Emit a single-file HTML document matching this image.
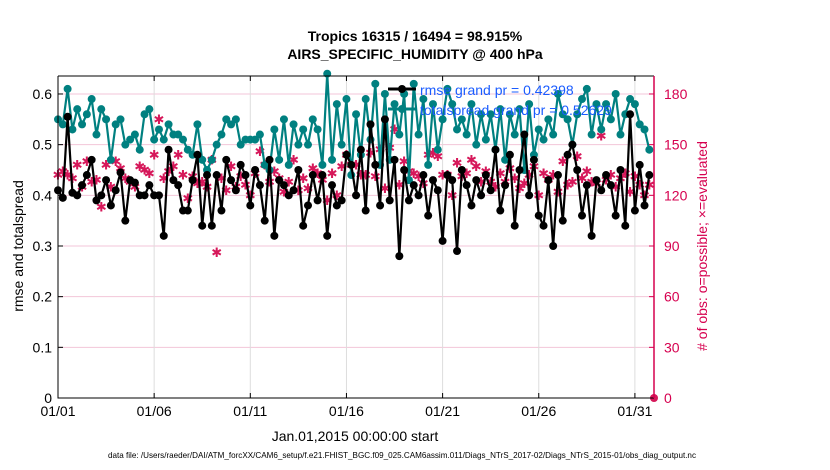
<!DOCTYPE html>
<html><head><meta charset="utf-8"><style>
body{margin:0;background:#fff;}
svg{display:block;font-family:"Liberation Sans",Arial,sans-serif;}
</style></head><body>
<svg id="chart" width="830" height="470">
<text x="415" y="41" text-anchor="middle" font-size="14" font-weight="bold">Tropics 16315 / 16494 = 98.915%</text>
<text x="415" y="59" text-anchor="middle" font-size="14" font-weight="bold">AIRS_SPECIFIC_HUMIDITY @ 400 hPa</text>
<g id="grid"></g>
<g id="series"></g>
<g id="axes"></g>
<text transform="translate(23,246) rotate(-90)" text-anchor="middle" font-size="14">rmse and totalspread</text>
<text transform="translate(707,246) rotate(-90)" text-anchor="middle" font-size="14" fill="#d6004f"># of obs: o=possible; ×=evaluated</text>
<text x="355" y="441" text-anchor="middle" font-size="14">Jan.01,2015 00:00:00 start</text>
<text x="402" y="458" text-anchor="middle" font-size="8.1">data file: /Users/raeder/DAI/ATM_forcXX/CAM6_setup/f.e21.FHIST_BGC.f09_025.CAM6assim.011/Diags_NTrS_2017-02/Diags_NTrS_2015-01/obs_diag_output.nc</text>
<g>
<line x1="388" y1="89" x2="416" y2="89" stroke="#000" stroke-width="3"/>
<circle cx="402" cy="89" r="4" fill="#000"/>
<text x="420" y="95" font-size="14" fill="#1a5cff">rmse grand pr = 0.42398</text>
<line x1="388" y1="109" x2="416" y2="109" stroke="#008080" stroke-width="3"/>
<circle cx="402" cy="109" r="4" fill="#008080"/>
<text x="420" y="115" font-size="14" fill="#1a5cff">totalspread grand pr = 0.52629</text>
</g>
</svg>
<script>
const rmse=[0.41,0.395,0.555,0.405,0.40,0.42,0.44,0.47,0.39,0.40,0.43,0.38,0.41,0.445,0.35,0.43,0.425,0.40,0.40,0.42,0.40,0.40,0.32,0.49,0.43,0.42,0.37,0.37,0.43,0.48,0.34,0.44,0.34,0.44,0.37,0.47,0.43,0.41,0.46,0.44,0.38,0.45,0.42,0.35,0.47,0.32,0.43,0.42,0.40,0.41,0.45,0.34,0.38,0.44,0.39,0.44,0.32,0.42,0.38,0.39,0.48,0.46,0.40,0.49,0.37,0.54,0.46,0.38,0.55,0.39,0.47,0.28,0.45,0.39,0.42,0.40,0.44,0.36,0.43,0.41,0.31,0.44,0.43,0.29,0.45,0.42,0.38,0.43,0.40,0.44,0.41,0.49,0.37,0.42,0.48,0.34,0.45,0.52,0.40,0.47,0.36,0.34,0.43,0.30,0.44,0.35,0.48,0.50,0.45,0.36,0.42,0.32,0.43,0.41,0.44,0.42,0.36,0.45,0.34,0.56,0.37,0.46,0.38,0.44];
const spread=[0.55,0.54,0.61,0.53,0.57,0.54,0.56,0.59,0.52,0.57,0.55,0.47,0.54,0.55,0.50,0.51,0.52,0.49,0.56,0.57,0.51,0.53,0.51,0.54,0.52,0.52,0.51,0.49,0.48,0.54,0.47,0.45,0.47,0.50,0.52,0.55,0.54,0.55,0.50,0.51,0.51,0.51,0.52,0.46,0.45,0.53,0.47,0.55,0.46,0.54,0.50,0.53,0.50,0.55,0.53,0.46,0.64,0.47,0.58,0.50,0.59,0.44,0.56,0.48,0.59,0.51,0.62,0.46,0.60,0.47,0.58,0.52,0.60,0.43,0.62,0.52,0.59,0.46,0.58,0.49,0.55,0.61,0.58,0.53,0.55,0.52,0.58,0.50,0.56,0.51,0.56,0.49,0.57,0.47,0.56,0.52,0.57,0.45,0.58,0.48,0.53,0.51,0.55,0.52,0.60,0.56,0.55,0.50,0.56,0.59,0.61,0.52,0.58,0.53,0.58,0.55,0.60,0.52,0.56,0.59,0.58,0.54,0.53,0.49];
const nobs=[132,134,132,130,138,125,140,128,129,113,138,125,140,136,130,128,125,137,135,133,144,165,130,134,137,144,132,118,131,127,128,125,141,86,130,123,137,125,131,126,120,133,146,138,128,134,130,122,128,141,123,130,124,136,133,129,117,133,120,137,144,138,138,132,132,145,131,147,124,148,159,126,140,134,133,131,127,144,145,143,132,132,120,139,131,133,141,137,128,134,128,125,133,128,136,130,124,127,132,137,120,133,129,132,122,140,126,128,143,130,134,128,127,155,129,132,125,130,133,122,131,126,120,126];
const xTicks=["01/01","01/06","01/11","01/16","01/21","01/26","01/31"];
const yTicks=[0,0.1,0.2,0.3,0.4,0.5,0.6];
const y2Ticks=[0,30,60,90,120,150,180];
const NS="http://www.w3.org/2000/svg";
const L=58,R=654,T=76,B=398;
const xs=i=>L+i*(19.23/4);
const xd=d=>L+d*19.23;
const ys=v=>B-v*506.7;
const y2=v=>B-v*(506.7/300);
function mk(tag,attrs,parent){const e=document.createElementNS(NS,tag);for(const k in attrs)e.setAttribute(k,attrs[k]);parent.appendChild(e);return e;}
const grid=document.getElementById('grid'),ser=document.getElementById('series'),ax=document.getElementById('axes');
yTicks.forEach(v=>{if(v>0){const g=mk('line',{x1:L,x2:R,y1:ys(v),y2:ys(v),stroke:'#f3c6d8','stroke-width':1},grid);

}});
xTicks.forEach((t,i)=>{const x=xd(i*5);const g=mk('line',{x1:x,x2:x,y1:T,y2:B,stroke:'#ddd','stroke-width':1},grid);


const tx=mk('text',{x:x,y:B+18,'text-anchor':'middle','font-size':14},ax);tx.textContent=t;


mk('line',{x1:x,x2:x,y1:B,y2:B-5,stroke:'#000'},ax);mk('line',{x1:x,x2:x,y1:T,y2:T+5,stroke:'#000'},ax);});
yTicks.forEach(v=>{const tx=mk('text',{x:L-6,y:ys(v)+5,'text-anchor':'end','font-size':14},ax);tx.textContent=v===0?'0':v.toFixed(1);


mk('line',{x1:L,x2:L+5,y1:ys(v),y2:ys(v),stroke:'#000'},ax);});
y2Ticks.forEach(v=>{const tx=mk('text',{x:R+10,y:y2(v)+5,'font-size':14,fill:'#d6004f'},ax);tx.textContent=v;


mk('line',{x1:R,x2:R-5,y1:y2(v),y2:y2(v),stroke:'#d6004f'},ax);});
const frame=mk('path',{d:`M${L},${T}H${R}M${L},${T}V${B}H${R}`,fill:'none',stroke:'#000','stroke-width':1},ax);


const rax=mk('line',{x1:R,x2:R,y1:T,y2:B,stroke:'#d6004f','stroke-width':1.5},ax);


nobs.forEach((n,i)=>{const g=mk('text',{x:xs(i),y:y2(n)+4.5,'text-anchor':'middle','font-size':13,fill:'#d6185a'},ser);g.textContent='✱';

});
function line(arr,color,name){
const p=mk('polyline',{points:arr.map((v,i)=>xs(i)+','+ys(v)).join(' '),fill:'none',stroke:color,'stroke-width':2.2,'stroke-linejoin':'round'},ser);


arr.forEach((v,i)=>{const c=mk('circle',{cx:xs(i),cy:ys(v),r:4,fill:color},ser);

});}
line(spread,'#008080','totalspread');
line(rmse,'#000','rmse');
const z=mk('circle',{cx:R,cy:B,r:4,fill:'#d6185a'},ser);


</script>
</body></html>
